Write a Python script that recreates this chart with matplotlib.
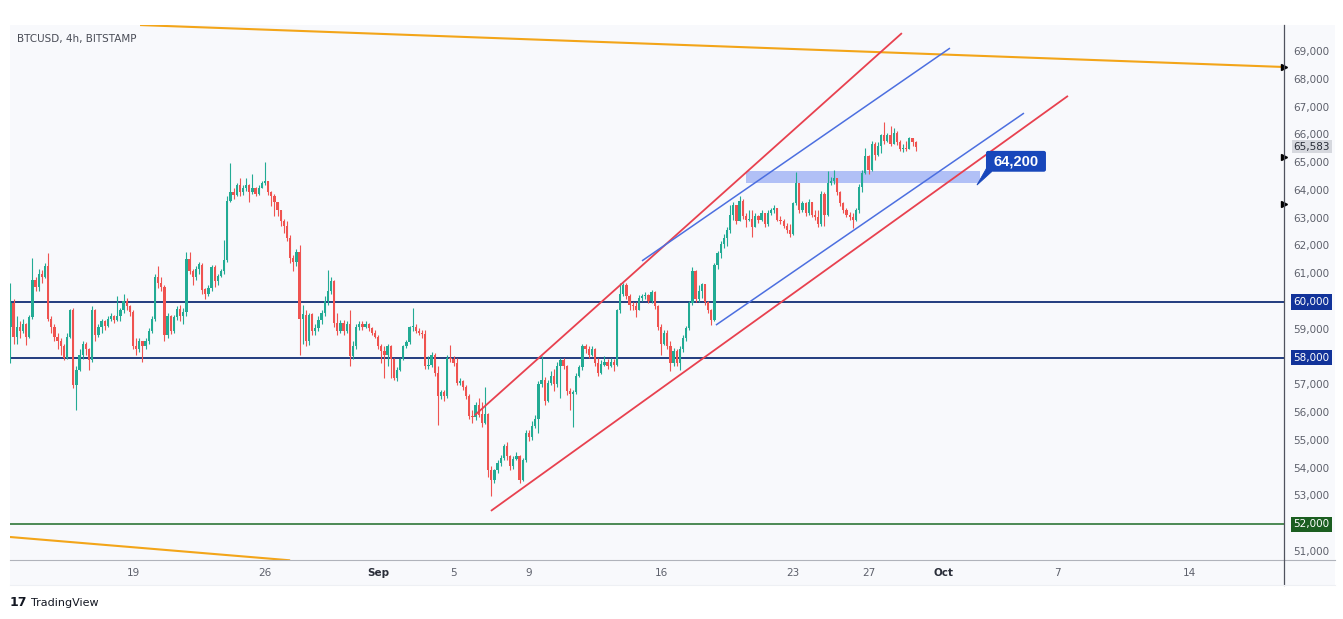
import numpy as np
import pandas as pd
import matplotlib
matplotlib.use("Agg")
import matplotlib.pyplot as plt
import matplotlib.dates as mdates
import matplotlib.transforms as mtransforms
from matplotlib.patches import Rectangle, Polygon, FancyBboxPatch

plt.rcParams['font.family'] = ['Liberation Sans Narrow', 'DejaVu Sans']

# 4h candles, prices in thousands of USD (open = previous close)
first_open_k = 59.10
close_k = [
    59.95, 58.75, 59.10, 58.95, 59.20, 58.75, 59.45, 60.80, 60.55, 61.00, 60.90, 61.30, 59.40, 59.10, 58.75, 58.60, 58.40, 58.00,
    58.75, 59.70, 57.00, 57.55, 58.10, 58.50, 58.30, 57.90, 59.70, 58.80, 59.10, 59.30, 59.15, 59.40, 59.50, 59.35, 59.50, 59.70,
    60.05, 59.85, 59.65, 58.40, 58.30, 58.60, 58.40, 58.60, 58.95, 59.40, 60.90, 60.70, 60.55, 58.80, 59.50, 58.95, 59.45, 59.75,
    59.50, 59.65, 61.55, 61.10, 60.90, 61.20, 61.35, 60.45, 60.30, 60.50, 61.25, 60.75, 60.95, 61.10, 61.50, 63.65, 63.95, 63.85,
    64.20, 63.95, 64.10, 64.20, 63.95, 64.10, 63.90, 64.10, 64.30, 64.35, 63.95, 63.80, 63.60, 63.30, 62.90, 62.75, 62.30, 61.60,
    61.45, 61.80,
    59.40, 59.55, 58.60, 59.55, 58.95, 59.05, 59.35, 59.60, 60.05, 60.40, 60.75, 59.25, 58.95, 59.25, 58.95, 59.20, 58.05, 58.40,
    59.10, 59.20, 59.10, 59.20, 59.05, 58.90, 58.75, 58.40, 58.25, 58.10, 58.40, 57.95, 57.25, 57.55, 57.95, 58.40, 58.55, 59.10,
    59.10, 58.95, 58.90, 58.85, 57.70, 57.75, 58.10, 57.45, 56.60, 56.75, 56.60, 58.00, 57.95, 57.80, 57.10, 57.15, 56.95, 56.60,
    55.90, 55.85, 56.30, 55.95, 55.65, 55.95,
    53.95, 53.60, 53.95, 54.20, 54.40, 54.80, 54.45, 54.10, 54.35, 54.45, 53.60, 54.30, 55.30, 55.15, 55.55, 55.80, 57.05, 57.20,
    56.45, 57.10, 57.35, 57.05, 57.70, 57.90, 57.70, 56.80, 56.70, 56.75, 57.35, 57.65, 58.40, 58.30, 58.10, 58.30, 57.80, 57.45,
    57.75, 57.85, 57.70, 57.85, 57.75, 59.70, 60.30, 60.60, 60.20, 59.90, 59.85,
    59.70, 60.15, 60.20, 60.25, 60.05, 60.35, 59.85, 59.10, 58.50, 58.90, 58.40, 57.80, 58.25, 57.80, 58.30, 58.70, 59.05, 59.95,
    61.10, 60.10, 60.40, 60.65, 60.00, 59.70, 59.35, 61.33, 61.75, 62.10, 62.30, 62.60, 63.15, 63.50, 62.90, 63.65, 63.10, 62.95,
    63.00, 62.70, 63.10, 62.95, 63.20, 62.80, 63.20, 63.30, 63.40, 62.95, 62.90, 62.75, 62.60, 62.45, 63.55, 64.30, 63.30, 63.55,
    63.20, 63.60, 63.15, 63.05, 62.80, 63.90, 63.15, 64.30, 64.35, 64.45, 63.95,
    63.55, 63.30, 63.15, 63.05, 62.95, 63.30, 64.15, 64.65, 65.25, 64.75, 65.70, 65.30, 65.60, 66.00, 65.80, 66.00, 65.70, 66.10,
    65.75, 65.50, 65.55, 65.50, 65.90, 65.75, 65.58,
]
high_k = [
    60.67, 60.10, 59.50, 59.30, 59.40, 59.25, 59.55, 61.57, 60.90, 61.20, 61.15, 61.40, 61.77, 59.50, 59.20, 58.90, 58.70, 58.50,
    58.90, 59.75, 59.80, 57.70, 58.30, 58.60, 58.55, 58.35, 59.85, 59.75, 59.20, 59.40, 59.35, 59.50, 59.60, 59.55, 60.20, 59.80,
    60.30, 60.15, 59.90, 59.70, 58.70, 58.70, 58.60, 58.70, 59.05, 59.50, 61.00, 61.30, 60.90, 60.60, 59.60, 59.55, 59.55, 59.85,
    59.90, 59.80, 61.80, 61.81, 61.20, 61.30, 61.45, 61.40, 60.50, 60.60, 61.35, 61.35, 61.00, 61.20, 62.25, 63.80, 64.99, 64.10,
    64.30, 64.45, 64.20, 64.45, 64.25, 64.60, 64.15, 64.20, 64.35, 65.05, 64.35, 64.00, 63.90, 63.60, 63.30, 63.00, 62.90, 62.40,
    61.70, 61.90,
    62.05, 59.90, 59.70, 59.60, 59.60, 59.20, 59.50, 59.70, 60.20, 61.15, 60.90, 60.80, 59.60, 59.35, 59.35, 59.30, 59.70, 58.60,
    59.20, 59.30, 59.30, 59.30, 59.25, 59.10, 59.00, 58.80, 58.50, 58.40, 58.50, 58.45, 58.00, 57.65, 58.00, 58.45, 58.65, 59.15,
    59.80, 59.20, 59.05, 59.00, 59.00, 58.05, 58.20, 58.15, 57.70, 56.85, 56.85, 58.10, 58.45, 58.05, 58.00, 57.25, 57.20, 57.00,
    56.70, 56.10, 56.40, 56.55, 56.40, 56.95,
    56.00, 54.10, 54.00, 54.30, 54.50, 54.90, 54.95, 54.50, 54.45, 54.60, 54.50, 54.40, 55.40, 55.40, 55.70, 55.95, 57.15, 58.05,
    57.30, 57.20, 57.50, 57.60, 57.85, 58.00, 58.00, 57.75, 56.90, 56.85, 57.45, 57.75, 58.50, 58.50, 58.40, 58.40, 58.35, 58.00,
    57.90, 58.05, 57.95, 58.00, 57.95, 59.75, 60.67, 60.70, 60.67, 60.30, 60.00,
    60.00, 60.25, 60.30, 60.35, 60.30, 60.45, 60.40, 59.90, 59.20, 59.00, 59.00, 58.60, 58.35, 58.30, 58.40, 58.80, 59.15, 60.05,
    61.27, 61.15, 60.60, 60.70, 60.60, 60.05, 59.75, 61.40, 61.85, 62.20, 62.45, 62.70, 63.50, 63.60, 63.30, 63.80, 63.70, 63.20,
    63.30, 63.30, 63.20, 63.15, 63.30, 63.15, 63.30, 63.40, 63.50, 63.40, 63.10, 63.00, 62.85, 62.80, 63.60, 64.69, 64.30, 63.65,
    63.60, 63.70, 63.60, 63.30, 63.30, 64.00, 63.95, 64.70, 64.50, 64.75, 64.45,
    64.00, 63.60, 63.40, 63.25, 63.20, 63.40, 64.25, 64.75, 65.55, 65.30, 65.80, 65.75, 65.75, 66.05, 66.49, 66.10, 66.35, 66.25,
    66.15, 65.85, 65.70, 65.80, 65.95, 65.90, 65.80,
]
low_k = [
    57.79, 58.50, 58.50, 58.70, 58.90, 58.45, 58.70, 59.40, 60.40, 60.40, 60.70, 60.85, 59.30, 58.90, 58.60, 58.30, 58.10, 57.90,
    57.95, 58.70, 56.90, 56.10, 57.50, 57.95, 58.10, 57.55, 57.85, 58.60, 58.75, 58.90, 59.00, 59.10, 59.30, 59.25, 59.30, 59.30,
    59.60, 59.70, 59.50, 58.30, 58.10, 58.20, 57.85, 58.30, 58.50, 58.90, 59.30, 60.50, 60.40, 58.60, 58.70, 58.85, 58.90, 59.35,
    59.30, 59.20, 59.50, 61.00, 60.60, 60.80, 61.00, 60.30, 60.10, 60.20, 60.40, 60.55, 60.60, 60.90, 61.00, 61.45, 63.60, 63.70,
    63.80, 63.80, 63.85, 64.00, 63.60, 63.90, 63.80, 63.85, 64.10, 64.20, 63.85, 63.45, 63.10, 63.10, 62.75, 62.50, 62.20, 61.40,
    61.10, 61.30,
    58.10, 58.50, 58.40, 58.45, 58.80, 58.80, 58.95, 59.20, 59.50, 59.90, 60.30, 59.10, 58.80, 58.90, 58.80, 58.90, 57.70, 57.95,
    58.30, 59.00, 59.00, 59.05, 58.95, 58.80, 58.70, 58.30, 57.80, 57.25, 57.70, 57.25, 57.20, 57.15, 57.50, 57.90, 58.35, 58.50,
    58.95, 58.90, 58.80, 58.70, 57.60, 57.60, 57.65, 57.35, 55.57, 56.50, 56.45, 56.55, 57.85, 57.70, 57.00, 57.00, 56.85, 56.50,
    55.80, 55.65, 55.75, 55.85, 55.50, 55.60,
    53.70, 53.00, 53.50, 53.85, 54.10, 54.30, 54.30, 53.95, 54.00, 54.30, 53.50, 53.55, 54.25, 55.00, 55.05, 55.45, 55.30, 56.95,
    56.30, 56.40, 57.00, 56.80, 56.95, 56.55, 57.60, 56.65, 56.10, 55.50, 56.70, 57.30, 57.55, 58.15, 58.00, 58.05, 57.70, 57.35,
    57.40, 57.70, 57.60, 57.65, 57.50, 57.70, 59.60, 60.20, 60.10, 59.70, 59.70,
    59.45, 59.70, 60.05, 60.10, 59.95, 59.95, 59.75, 59.00, 58.10, 58.45, 58.30, 57.50, 57.70, 57.70, 57.55, 58.20, 58.60, 59.00,
    59.90, 60.00, 60.00, 60.15, 59.90, 59.60, 59.17, 59.30, 61.20, 61.60, 61.95, 62.00, 62.50, 62.95, 62.80, 62.95, 63.00, 62.70,
    62.90, 62.35, 62.70, 62.85, 62.90, 62.70, 62.75, 63.15, 63.20, 62.90, 62.80, 62.65, 62.50, 62.35, 62.40, 63.50, 63.20, 63.25,
    63.10, 63.15, 63.05, 62.95, 62.70, 62.75, 62.75, 63.10, 64.20, 64.25, 63.85,
    63.45, 63.20, 63.05, 62.95, 62.65, 62.90, 63.20, 63.95, 64.60, 64.60, 64.70, 65.10, 65.25, 65.35, 65.70, 65.75, 65.60, 65.70,
    65.65, 65.45, 65.40, 65.45, 65.50, 65.60, 65.45,
]
first_candle = '2024-08-12 12:00'

# horizontal levels
levels = [60000, 58000]
support = 52000
last_price = 65583

# trendlines: (start date, start price, end date, end price)
orange_lines = [('2024-08-19 09:00', 69970, '2024-10-19 00:45', 68460),
                ('2024-08-12 11:30', 51540, '2024-08-27 08:00', 50700)]
red_lines = [('2024-09-06 03:10', 55930, '2024-09-28 18:30', 69680),
             ('2024-09-06 23:30', 52480, '2024-10-07 13:50', 67420)]
blue_lines = [('2024-09-14 23:45', 61480, '2024-10-01 07:40', 69140),
              ('2024-09-18 21:50', 59170, '2024-10-05 05:50', 66800)]
zone = ('2024-09-20 12:00', '2024-10-02 21:50', 64280, 64700)
callout = ('2024-10-03 05:30', '2024-10-06 09:50', 64690, 65440)
callout_tip = ('2024-10-02 18:00', 64210)
callout_text = '64,200'
axis_markers = [68460, 65220, 63530]

x_ticks = ['2024-08-19', '2024-08-26', '2024-09-01', '2024-09-05', '2024-09-09', '2024-09-16',
           '2024-09-23', '2024-09-27', '2024-10-01', '2024-10-07', '2024-10-14']
x_labels = ['19', '26', 'Sep', '5', '9', '16', '23', '27', 'Oct', '7', '14']
y_ticks = list(range(51000, 70000, 1000))

W, H = 1343, 619
fig = plt.figure(figsize=(W / 100, H / 100), dpi=100)
fig.patch.set_facecolor('white')
panel_bg = '#f8f9fc'
fig.patches.append(Rectangle((10 / W, 1 - 585 / H), 1325 / W, 560 / H, transform=fig.transFigure,
                             facecolor=panel_bg, edgecolor='none', zorder=-10))

ax = fig.add_axes([10 / W, 1 - 560 / H, 1274 / W, 535 / H])
ax.set_zorder(1)
ax.set_facecolor(panel_bg)
for s in ax.spines.values():
    s.set_visible(False)
ax.set_xticks([])
ax.set_yticks([])

d = lambda s: mdates.date2num(pd.Timestamp(s))
ax.set_xlim(d('2024-08-12 11:30'), d('2024-10-19 00:45'))
ax.set_ylim(50712, 69972)

# candles
closes = np.array(close_k) * 1000
highs = np.array(high_k) * 1000
lows = np.array(low_k) * 1000
opens = np.concatenate([[first_open_k * 1000], closes[:-1]])
highs = np.maximum(highs, np.maximum(opens, closes))
lows = np.minimum(lows, np.minimum(opens, closes))
times = mdates.date2num(pd.date_range(first_candle, periods=len(closes), freq='4h'))
up = closes >= opens
colors = np.where(up, '#22ab94', '#ef5350')
ax.vlines(times, lows, highs, colors=colors, linewidth=0.8, zorder=3)
body = np.maximum(np.abs(closes - opens), 25)
ax.bar(times, body, bottom=np.minimum(opens, closes), width=0.12, color=colors,
       linewidth=0, zorder=4)

# levels
for lv in levels:
    ax.axhline(lv, color='#112e75', linewidth=1.3, zorder=2)
ax.axhline(support, color='#1e6b27', linewidth=1.1, zorder=2)

def trend(lines, color, lw):
    for x0, y0, x1, y1 in lines:
        ax.plot([d(x0), d(x1)], [y0, y1], color=color, linewidth=lw, zorder=5, solid_capstyle='butt')

trend(orange_lines, '#f3a519', 1.5)
trend(red_lines, '#e8414f', 1.3)
trend(blue_lines, '#4c6fe0', 1.1)

ax.add_patch(Rectangle((d(zone[0]), zone[2]), d(zone[1]) - d(zone[0]), zone[3] - zone[2],
                       facecolor='#9aaef5', alpha=0.75, edgecolor='none', zorder=2))

# callout
cx0, cx1 = d(callout[0]), d(callout[1])
ax.add_patch(FancyBboxPatch((cx0, callout[2]), cx1 - cx0, callout[3] - callout[2],
                            boxstyle='round,pad=0,rounding_size=0.12', mutation_aspect=600,
                            facecolor='#1847bb', edgecolor='none', zorder=6))
ax.add_patch(Polygon([(cx0 + 0.05, callout[2] + 150), (cx0 + 0.3, callout[2]),
                      (d(callout_tip[0]), callout_tip[1])],
                     closed=True, facecolor='#1847bb', edgecolor='#1847bb', linewidth=0.6, zorder=6))
ax.text((cx0 + cx1) / 2, (callout[2] + callout[3]) / 2, callout_text, color='white', fontsize=10.5,
        fontweight='bold', ha='center', va='center', zorder=7, family=['Liberation Sans', 'DejaVu Sans'])

# scale separators
fig.add_artist(plt.Line2D([10 / W, 1335 / W], [1 - 560 / H] * 2, color='#b0b3bb', linewidth=0.8))
fig.add_artist(plt.Line2D([1284 / W, 1284 / W], [1 - 25 / H, 1 - 585 / H], color='#50535e', linewidth=0.9))

# right price scale
tr = mtransforms.blended_transform_factory(ax.transAxes, ax.transData)
for v in y_ticks:
    if v in levels or v == support:
        continue
    ax.text(1.0075, v, f'{v:,}', transform=tr, fontsize=7.5, color='#5d606b', va='center', ha='left',
            clip_on=False)
for v in levels:
    ax.text(1.0075, v, f'{v:,}', transform=tr, fontsize=7.5, color='white', va='center', ha='left',
            clip_on=False, bbox=dict(boxstyle='square,pad=0.25', facecolor='#12339a', edgecolor='none'))
ax.text(1.0075, support, f'{support:,}', transform=tr, fontsize=7.5, color='white', va='center', ha='left',
        clip_on=False, bbox=dict(boxstyle='square,pad=0.25', facecolor='#1b5e20', edgecolor='none'))
ax.text(1.0075, last_price, f'{last_price:,}', transform=tr, fontsize=7.5, color='#2a2e39', va='center',
        ha='left', clip_on=False, zorder=8,
        bbox=dict(boxstyle='square,pad=0.15', facecolor='#d6d8de', edgecolor='none'))
ax.plot([1.0] * len(axis_markers), axis_markers, transform=tr, marker='>', markersize=5, color='black',
        linestyle='none', clip_on=False, zorder=9)

# time scale
trx = mtransforms.blended_transform_factory(ax.transData, ax.transAxes)
for t, lab in zip(x_ticks, x_labels):
    bold = lab in ('Sep', 'Oct')
    ax.text(d(t), -0.024, lab, transform=trx, fontsize=7.5, ha='center', va='center',
            color='#2a2e39' if bold else '#5d606b', fontweight='bold' if bold else 'normal')
fig.add_artist(plt.Line2D([10 / W, 1335 / W], [1 - 585 / H] * 2, color='#eef0f4', linewidth=0.8))

ax.text(0.0055, 0.974, 'BTCUSD, 4h, BITSTAMP', transform=ax.transAxes, fontsize=7.5, color='#4a4d57',
        ha='left', va='center')
fig.text(10 / W, 1 - 603 / H, '17', fontsize=9, fontweight='heavy', color='#131722', va='center',
         family=['DejaVu Sans'])
fig.text(31 / W, 1 - 603 / H, 'TradingView', fontsize=8, color='#131722', va='center')

fig.savefig('out.png', dpi=100, facecolor=fig.get_facecolor())
